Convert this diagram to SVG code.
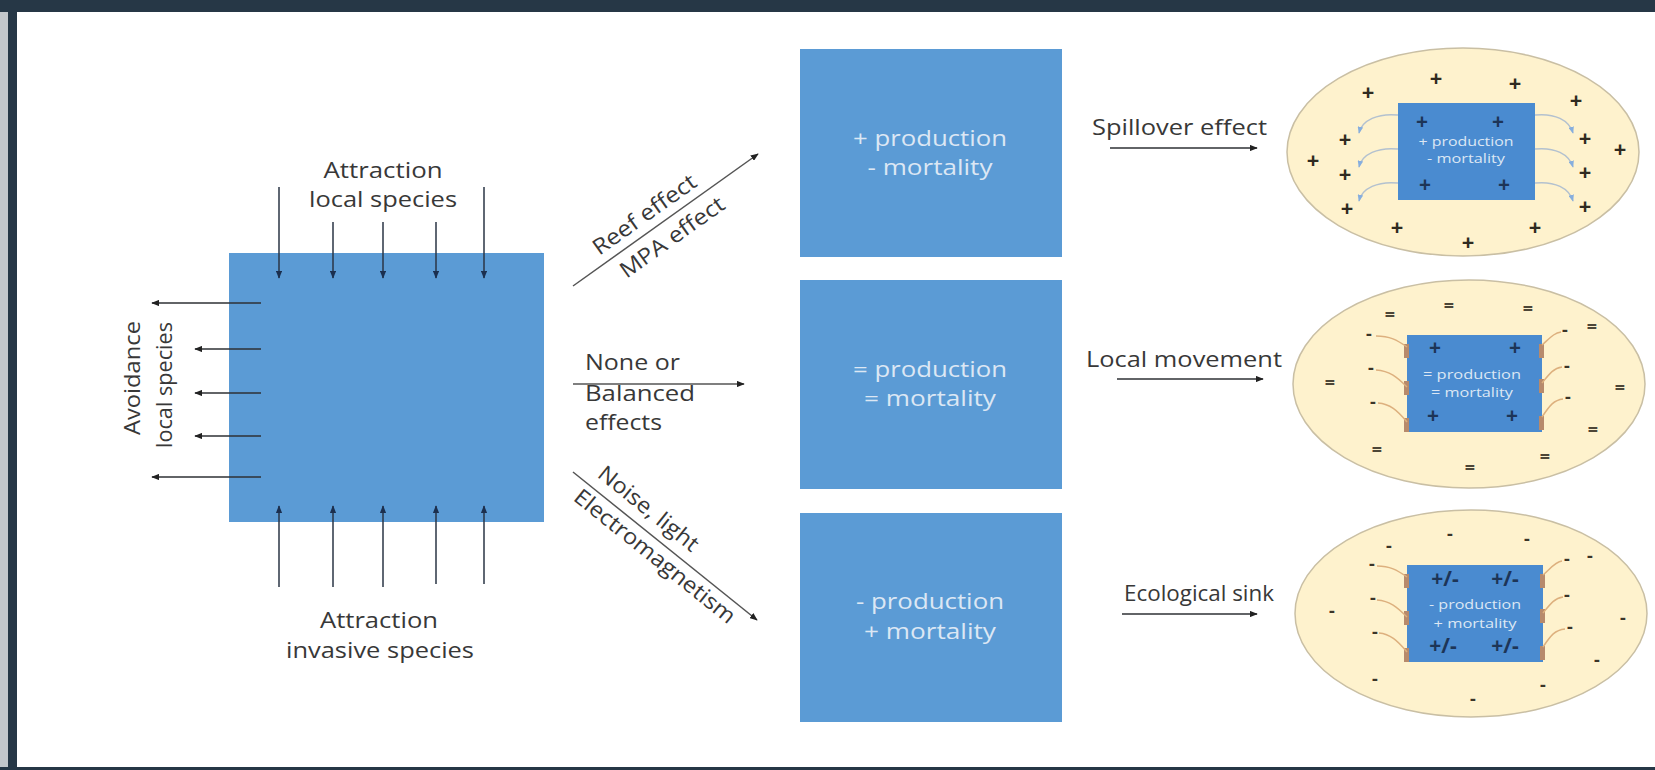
<svg xmlns="http://www.w3.org/2000/svg" width="1655" height="770" viewBox="0 0 1655 770">
<defs>
<style>
.lbl{font-family:"Open Sans","Liberation Sans",sans-serif;font-size:22px;fill:#383838}
.bt{font-family:"Open Sans","Liberation Sans",sans-serif;font-size:22px;fill:#dce7f4;text-anchor:middle}
.st{font-family:"Open Sans","Liberation Sans",sans-serif;font-size:13.5px;fill:#dce7f4;text-anchor:middle}
.pl{font-family:"Open Sans","Liberation Sans",sans-serif;font-size:22px;font-weight:700;fill:#2f2a20;text-anchor:middle}
.pn{font-family:"Open Sans","Liberation Sans",sans-serif;font-size:21px;font-weight:700;fill:#1d3557;text-anchor:middle}
.eq{font-family:"Open Sans","Liberation Sans",sans-serif;font-size:18px;font-weight:700;fill:#4d4637;text-anchor:middle}
.ds{font-family:"Open Sans","Liberation Sans",sans-serif;font-size:18px;font-weight:700;fill:#3b3528;text-anchor:middle}
.ar{stroke:#2e3035;stroke-width:1.5;fill:none;marker-end:url(#ah)}
.arn{stroke:#2a3444;stroke-width:1.5;fill:none;marker-end:url(#ahn)}
.dg{stroke:#555;stroke-width:1.5;fill:none;marker-end:url(#ah)}
.bx{fill:#5b9bd5}
.ell{fill:#fef2cd;stroke:#c9bfa4;stroke-width:1.5}
.ib{fill:#4a8bd0}
.cb{stroke:#b3c1cf;stroke-width:1.5;fill:none;marker-end:url(#ahb)}
.ct{stroke:#ddb07e;stroke-width:1.5;fill:none}
.tab{fill:#b78a6c}
</style>
<marker id="ah" viewBox="0 0 10 8" refX="9" refY="4" markerWidth="8" markerHeight="6.4" markerUnits="userSpaceOnUse" orient="auto"><path d="M0,0 L10,4 L0,8 z" fill="#222"/></marker>
<marker id="ahn" viewBox="0 0 10 8" refX="9" refY="4" markerWidth="8" markerHeight="6.4" markerUnits="userSpaceOnUse" orient="auto"><path d="M0,0 L10,4 L0,8 z" fill="#1b2f4f"/></marker>
<marker id="ahb" viewBox="0 0 10 8" refX="9" refY="4" markerWidth="7" markerHeight="5.6" markerUnits="userSpaceOnUse" orient="auto"><path d="M0,0 L10,4 L0,8 z" fill="#86aede"/></marker>
</defs>

<g id="frame">
<rect x="0" y="0" width="1655" height="770" fill="#ffffff"/>
<rect x="0" y="0" width="8" height="770" fill="#c3c7cb"/>
<rect x="8" y="0" width="9" height="770" fill="#263746"/>
<rect x="0" y="0" width="1655" height="12" fill="#263746"/>
<rect x="0" y="767" width="1655" height="3" fill="#263746"/>
</g>

<g id="main-structure">
<rect class="bx" x="229" y="253" width="315" height="269"/>
</g>

<g id="label-attraction-local">
<text class="lbl" x="383" y="178" text-anchor="middle" textLength="119" lengthAdjust="spacingAndGlyphs">Attraction</text>
<text class="lbl" x="383" y="207" text-anchor="middle" textLength="148" lengthAdjust="spacingAndGlyphs">local species</text>
</g>
<g id="label-attraction-invasive">
<text class="lbl" x="379" y="628" text-anchor="middle" textLength="118" lengthAdjust="spacingAndGlyphs">Attraction</text>
<text class="lbl" x="380" y="658" text-anchor="middle" textLength="188" lengthAdjust="spacingAndGlyphs">invasive species</text>
</g>
<g id="label-avoidance">
<text class="lbl" transform="translate(140,378) rotate(-90)" x="0" y="0" text-anchor="middle" textLength="114" lengthAdjust="spacingAndGlyphs">Avoidance</text>
<text class="lbl" transform="translate(172,385) rotate(-90)" x="0" y="0" text-anchor="middle" textLength="126" lengthAdjust="spacingAndGlyphs">local species</text>
</g>

<g id="box-positive">
<rect class="bx" x="800" y="49" width="262" height="208"/>
<text class="bt" x="930" y="146" textLength="154" lengthAdjust="spacingAndGlyphs">+ production</text>
<text class="bt" x="930" y="175" textLength="125" lengthAdjust="spacingAndGlyphs">- mortality</text>
</g>
<g id="box-neutral">
<rect class="bx" x="800" y="280" width="262" height="209"/>
<text class="bt" x="930" y="377" textLength="154" lengthAdjust="spacingAndGlyphs">= production</text>
<text class="bt" x="930" y="406" textLength="132" lengthAdjust="spacingAndGlyphs">= mortality</text>
</g>
<g id="box-negative">
<rect class="bx" x="800" y="513" width="262" height="209"/>
<text class="bt" x="930" y="609" textLength="148" lengthAdjust="spacingAndGlyphs">- production</text>
<text class="bt" x="930" y="639" textLength="132" lengthAdjust="spacingAndGlyphs">+ mortality</text>
</g>

<g id="connectors">
<line class="arn" x1="279" y1="187" x2="279" y2="278"/>
<line class="arn" x1="333" y1="222" x2="333" y2="278"/>
<line class="arn" x1="383" y1="222" x2="383" y2="278"/>
<line class="arn" x1="436" y1="222" x2="436" y2="278"/>
<line class="arn" x1="484" y1="187" x2="484" y2="278"/>
<line class="arn" x1="279" y1="587" x2="279" y2="506"/>
<line class="arn" x1="333" y1="587" x2="333" y2="506"/>
<line class="arn" x1="383" y1="587" x2="383" y2="506"/>
<line class="arn" x1="436" y1="584" x2="436" y2="506"/>
<line class="arn" x1="484" y1="584" x2="484" y2="506"/>
<line class="ar" x1="261" y1="303" x2="152" y2="303"/>
<line class="ar" x1="261" y1="349" x2="195" y2="349"/>
<line class="ar" x1="261" y1="393" x2="195" y2="393"/>
<line class="ar" x1="261" y1="436" x2="195" y2="436"/>
<line class="ar" x1="261" y1="477" x2="152" y2="477"/>
<line class="dg" x1="573" y1="286" x2="758" y2="154"/>
<line class="dg" x1="573" y1="384" x2="744" y2="384"/>
<line class="dg" x1="573" y1="472" x2="757" y2="620"/>
<line class="ar" x1="1110" y1="148" x2="1257" y2="148"/>
<line class="ar" x1="1117" y1="379" x2="1263" y2="379"/>
<line class="ar" x1="1122" y1="614" x2="1257" y2="614"/>
</g>

<g id="label-reef">
<text class="lbl" transform="translate(654,228) rotate(-35.5)" x="0" y="-9" text-anchor="middle" textLength="122" lengthAdjust="spacingAndGlyphs">Reef effect</text>
<text class="lbl" transform="translate(662,223) rotate(-35.5)" x="0" y="25" text-anchor="middle" textLength="123" lengthAdjust="spacingAndGlyphs">MPA effect</text>
</g>
<g id="label-none">
<text class="lbl" x="585" y="370" textLength="95" lengthAdjust="spacingAndGlyphs">None or</text>
<text class="lbl" x="585" y="401" textLength="110" lengthAdjust="spacingAndGlyphs">Balanced</text>
<text class="lbl" x="585" y="430" textLength="77" lengthAdjust="spacingAndGlyphs">effects</text>
</g>
<g id="label-noise">
<text class="lbl" transform="translate(637,523) rotate(38.8)" x="0" y="-11" text-anchor="middle" textLength="122" lengthAdjust="spacingAndGlyphs">Noise, light</text>
<text class="lbl" transform="translate(664,545) rotate(38.8)" x="0" y="22" text-anchor="middle" textLength="200" lengthAdjust="spacingAndGlyphs">Electromagnetism</text>
</g>
<g id="label-outcomes">
<text class="lbl" x="1092" y="135" textLength="175" lengthAdjust="spacingAndGlyphs">Spillover effect</text>
<text class="lbl" x="1086" y="367" textLength="196" lengthAdjust="spacingAndGlyphs">Local movement</text>
<text class="lbl" x="1124" y="601" textLength="150" lengthAdjust="spacingAndGlyphs">Ecological sink</text>
</g>

<g id="ellipse-spillover">
<ellipse class="ell" cx="1463" cy="152" rx="176" ry="104"/>
<rect class="ib" x="1398" y="103" width="137" height="97"/>
<text class="st" x="1466" y="146" textLength="95" lengthAdjust="spacingAndGlyphs">+ production</text>
<text class="st" x="1466" y="163" textLength="78" lengthAdjust="spacingAndGlyphs">- mortality</text>
<path class="cb" d="M1398,115 C1378,113 1362,120 1359,133"/>
<path class="cb" d="M1398,149 C1378,147 1362,154 1359,167"/>
<path class="cb" d="M1398,183 C1378,181 1362,188 1359,201"/>
<path class="cb" d="M1535,115 C1555,113 1569,120 1573,133"/>
<path class="cb" d="M1535,149 C1555,147 1569,154 1573,167"/>
<path class="cb" d="M1535,183 C1555,181 1569,188 1573,201"/>
<text class="pn" x="1422" y="129">+</text>
<text class="pn" x="1498" y="129">+</text>
<text class="pn" x="1425" y="192">+</text>
<text class="pn" x="1504" y="192">+</text>
<text class="pl" x="1368" y="100">+</text>
<text class="pl" x="1436" y="86">+</text>
<text class="pl" x="1515" y="91">+</text>
<text class="pl" x="1576" y="108">+</text>
<text class="pl" x="1345" y="147">+</text>
<text class="pl" x="1313" y="168">+</text>
<text class="pl" x="1345" y="182">+</text>
<text class="pl" x="1347" y="216">+</text>
<text class="pl" x="1397" y="235">+</text>
<text class="pl" x="1468" y="250">+</text>
<text class="pl" x="1535" y="235">+</text>
<text class="pl" x="1585" y="146">+</text>
<text class="pl" x="1620" y="157">+</text>
<text class="pl" x="1585" y="180">+</text>
<text class="pl" x="1585" y="214">+</text>
</g>

<g id="ellipse-local">
<ellipse class="ell" cx="1469" cy="384" rx="176" ry="104"/>
<rect class="ib" x="1407" y="335" width="135" height="97"/>
<rect class="tab" x="1404" y="344" width="5" height="14"/>
<rect class="tab" x="1404" y="381" width="5" height="14"/>
<rect class="tab" x="1404" y="418" width="5" height="14"/>
<rect class="tab" x="1539" y="344" width="5" height="14"/>
<rect class="tab" x="1539" y="379" width="5" height="14"/>
<rect class="tab" x="1539" y="416" width="5" height="14"/>
<text class="st" x="1472" y="379" textLength="98" lengthAdjust="spacingAndGlyphs">= production</text>
<text class="st" x="1472" y="397" textLength="82" lengthAdjust="spacingAndGlyphs">= mortality</text>
<path class="ct" d="M1407,347 C1397,340 1390,336 1376,336"/>
<path class="ct" d="M1407,387 C1397,377 1390,371 1376,370"/>
<path class="ct" d="M1407,422 C1397,410 1390,404 1378,403"/>
<path class="ct" d="M1542,345 C1550,338 1554,333 1561,332"/>
<path class="ct" d="M1542,383 C1550,373 1554,368 1562,367"/>
<path class="ct" d="M1542,417 C1550,405 1554,400 1563,399"/>
<text class="pn" x="1435" y="355">+</text>
<text class="pn" x="1515" y="355">+</text>
<text class="pn" x="1433" y="423">+</text>
<text class="pn" x="1512" y="423">+</text>
<text class="ds" x="1369" y="340">-</text>
<text class="ds" x="1371" y="374">-</text>
<text class="ds" x="1373" y="408">-</text>
<text class="ds" x="1565" y="336">-</text>
<text class="ds" x="1567" y="372">-</text>
<text class="ds" x="1568" y="403">-</text>
<text class="eq" x="1390" y="321">=</text>
<text class="eq" x="1449" y="312">=</text>
<text class="eq" x="1528" y="315">=</text>
<text class="eq" x="1592" y="333">=</text>
<text class="eq" x="1330" y="389">=</text>
<text class="eq" x="1620" y="394">=</text>
<text class="eq" x="1593" y="436">=</text>
<text class="eq" x="1377" y="456">=</text>
<text class="eq" x="1545" y="463">=</text>
<text class="eq" x="1470" y="474">=</text>
</g>

<g id="ellipse-sink">
<ellipse class="ell" cx="1471" cy="613.5" rx="176" ry="103.5"/>
<rect class="ib" x="1407" y="565" width="136" height="97"/>
<rect class="tab" x="1404" y="574" width="5" height="14"/>
<rect class="tab" x="1404" y="611" width="5" height="14"/>
<rect class="tab" x="1404" y="648" width="5" height="14"/>
<rect class="tab" x="1540" y="574" width="5" height="14"/>
<rect class="tab" x="1540" y="609" width="5" height="14"/>
<rect class="tab" x="1540" y="646" width="5" height="14"/>
<text class="st" x="1475" y="609" textLength="92" lengthAdjust="spacingAndGlyphs">- production</text>
<text class="st" x="1475" y="628" textLength="83" lengthAdjust="spacingAndGlyphs">+ mortality</text>
<path class="ct" d="M1407,577 C1397,570 1390,566 1377,566"/>
<path class="ct" d="M1407,617 C1397,607 1390,601 1377,600"/>
<path class="ct" d="M1407,652 C1397,640 1390,634 1379,633"/>
<path class="ct" d="M1543,575 C1551,568 1555,562 1562,561"/>
<path class="ct" d="M1543,613 C1551,603 1555,598 1563,597"/>
<path class="ct" d="M1543,647 C1551,635 1555,630 1565,629"/>
<text class="pn" x="1445" y="586">+/-</text>
<text class="pn" x="1505" y="586">+/-</text>
<text class="pn" x="1443" y="653">+/-</text>
<text class="pn" x="1505" y="653">+/-</text>
<text class="ds" x="1372" y="570">-</text>
<text class="ds" x="1373" y="604">-</text>
<text class="ds" x="1375" y="638">-</text>
<text class="ds" x="1567" y="565">-</text>
<text class="ds" x="1567" y="601">-</text>
<text class="ds" x="1570" y="633">-</text>
<text class="ds" x="1450" y="540">-</text>
<text class="ds" x="1389" y="552">-</text>
<text class="ds" x="1527" y="545">-</text>
<text class="ds" x="1590" y="562">-</text>
<text class="ds" x="1332" y="617">-</text>
<text class="ds" x="1623" y="624">-</text>
<text class="ds" x="1597" y="666">-</text>
<text class="ds" x="1375" y="685">-</text>
<text class="ds" x="1543" y="691">-</text>
<text class="ds" x="1473" y="705">-</text>
</g>
</svg>
